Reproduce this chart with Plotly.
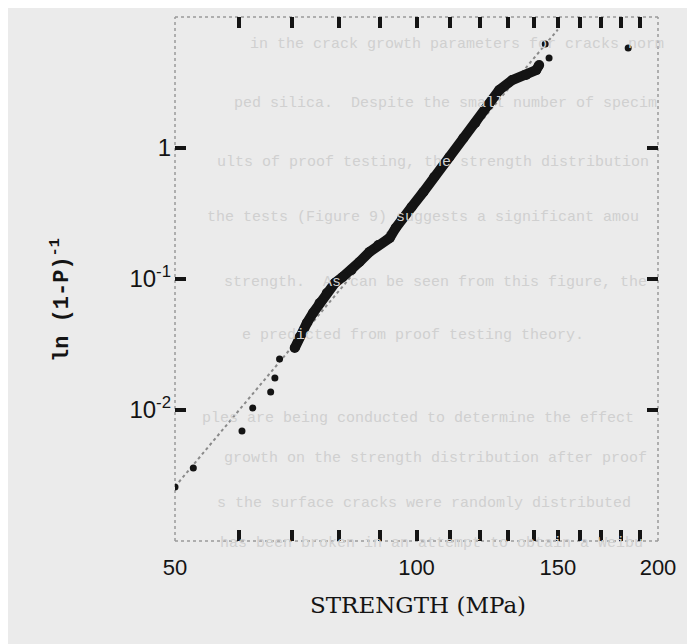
import plotly.graph_objects as go

# ---- data (Weibull plot) ----
# dense band of specimens (strength MPa, ln(1/(1-P)))
dense_strength = [70.5, 71.5, 73.0, 74.3, 75.7, 77.3, 79.1, 80.9, 83.0, 84.9,
                  87.4, 89.6, 92.6, 94.2, 96.0, 98.6, 102.0, 105.2, 109.9, 114.4,
                  118.4, 122.9, 126.8, 131.6, 137.0, 141.0, 142.2]
dense_lnp = [0.0297, 0.0361, 0.0461, 0.0550, 0.0656, 0.0782, 0.0932, 0.1036, 0.117, 0.135,
             0.161, 0.182, 0.206, 0.245, 0.292, 0.355, 0.462, 0.601, 0.854, 1.19,
             1.55, 2.13, 2.77, 3.30, 3.61, 3.94, 4.30]

# isolated specimens
iso_strength = [50.0, 52.7, 60.6, 62.5, 65.8, 66.6, 67.5, 146.3, 144.7, 183.6]
iso_lnp = [0.00258, 0.00361, 0.00691, 0.01036, 0.01372, 0.01755, 0.0245, 4.86, 6.22, 5.8]

# fitted Weibull line end points
fit_strength = [50.0, 150.0]
fit_lnp = [0.0026, 8.0]

x_major = [50, 100, 150, 200]
x_labels = ["50", "100", "150", "200"]
x_minor = [60, 70, 80, 90, 110, 120, 130, 140, 160, 170, 180, 190]
y_major = [0.01, 0.1, 1]
y_labels = ["10<sup>-2</sup>", "10<sup>-1</sup>", "1"]
y_minor = [0.001, 10]

# faint bleed-through text from the scanned page
ghost_lines = [
    "in the crack growth parameters for cracks norm",
    "ped silica.  Despite the small number of specim",
    "ults of proof testing, the strength distribution",
    "the tests (Figure 9) suggests a significant amou",
    "strength.  As can be seen from this figure, the",
    "e predicted from proof testing theory.",
    "ples are being conducted to determine the effect",
    "growth on the strength distribution after proof",
    "s the surface cracks were randomly distributed",
    "has been broken in an attempt to obtain a Weibu",
]
ghost_x = [248, 232, 215, 205, 222, 240, 200, 222, 215, 218]
ghost_y = [44, 104, 163, 218, 282, 335, 418, 458, 503, 543]

BG = "#ebebeb"
INK = "#141414"

fig = go.Figure()

fig.add_trace(go.Scatter(x=fit_strength, y=fit_lnp, mode="lines",
                         line=dict(color="#8a8a8a", width=2, dash="dot"),
                         hoverinfo="skip", showlegend=False))
fig.add_trace(go.Scatter(x=dense_strength, y=dense_lnp, mode="lines+markers",
                         line=dict(color=INK, width=10), marker=dict(color=INK, size=10),
                         showlegend=False))
fig.add_trace(go.Scatter(x=iso_strength, y=iso_lnp, mode="markers",
                         marker=dict(color=INK, size=7), showlegend=False))

# plot area in screen pixels: x 175..658, y 17..541 (page adds an 8px body margin)
PX0, PX1, PY0, PY1 = 175, 658, 17, 541
W, H = 695, 644
pw, ph = PX1 - PX0, PY1 - PY0
L, T = PX0 - 8, PY0 - 8
R, B = W - L - pw, H - T - ph

def px2paper(px, py):
    return (px - PX0) / pw, (PY1 - py) / ph

annotations = []
for txt, gx, gy in zip(ghost_lines, ghost_x, ghost_y):
    ax, ay = px2paper(gx, gy)
    annotations.append(dict(text=txt, x=ax, y=ay, xref="paper", yref="paper",
                            xanchor="left", yanchor="middle", showarrow=False,
                            font=dict(family="Liberation Mono", size=15, color="#d0d0d0")))

tx, ty = px2paper(418, 605)
annotations.append(dict(text="STRENGTH (MPa)", x=tx, y=ty, xref="paper", yref="paper",
                        xanchor="center", yanchor="middle", showarrow=False,
                        font=dict(family="DejaVu Serif", size=23, color=INK)))
yx, yy = px2paper(60, 300)
annotations.append(dict(text="<b>ln (1-P)<sup>-1</sup></b>", x=yx, y=yy, xref="paper", yref="paper",
                        xanchor="center", yanchor="middle", showarrow=False, textangle=-90,
                        font=dict(family="Liberation Mono", size=22, color=INK)))

shapes = []
for (x0, y0, x1, y1) in [(0, 0, 1, 0), (0, 1, 1, 1), (0, 0, 0, 1), (1, 0, 1, 1)]:
    shapes.append(dict(type="line", xref="paper", yref="paper", x0=x0, y0=y0, x1=x1, y1=y1,
                       line=dict(color="#9a9a9a", width=1.5, dash="dot"), layer="below"))

fig.update_layout(
    width=W, height=H,
    margin=dict(l=L, r=R, t=T, b=B),
    paper_bgcolor=BG, plot_bgcolor=BG,
    annotations=annotations, shapes=shapes,
    showlegend=False,
)
tick_style = dict(ticks="inside", ticklen=11, tickwidth=3.5, tickcolor=INK)
fig.update_xaxes(type="log", range=[1.69897, 2.30103], tickvals=x_major, ticktext=x_labels,
                 mirror="ticks", showline=False, showgrid=False, zeroline=False,
                 ticklabelstandoff=11,
                 minor=dict(tickmode="array", tickvals=x_minor, showgrid=False, **tick_style),
                 tickfont=dict(family="Liberation Sans", size=22, color=INK), **tick_style)
fig.update_yaxes(type="log", range=[-3, 1], tickvals=y_major, ticktext=y_labels,
                 mirror="ticks", showline=False, showgrid=False, zeroline=False,
                 ticklabelstandoff=3,
                 minor=dict(tickmode="array", tickvals=y_minor, showgrid=False, **tick_style),
                 tickfont=dict(family="Liberation Sans", size=24, color=INK), **tick_style)

fig.write_html("out.html")
